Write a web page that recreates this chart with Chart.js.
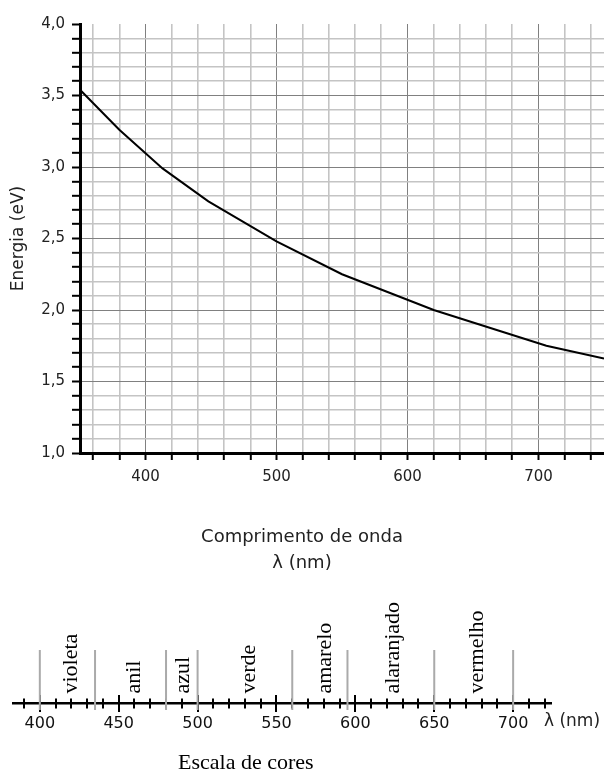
<!DOCTYPE html>
<html><head><meta charset="utf-8">
<script src="https://cdn.jsdelivr.net/npm/chart.js@4.4.0/dist/chart.umd.min.js"></script>
<style>
html,body{margin:0;padding:0;background:#fff;width:604px;height:774px;overflow:hidden}
#c1{position:absolute;left:0;top:0}
#c2{position:absolute;left:0;top:580px}
</style></head><body>
<canvas id="c1" width="604" height="576"></canvas>
<canvas id="c2" width="604" height="194"></canvas>
<script>
// ---- main chart data ----
const wavelengths = [350, 380, 413, 448, 500, 550, 620, 706, 750];
const energies    = [3.54, 3.26, 2.99, 2.76, 2.48, 2.25, 2.00, 1.75, 1.66];
const xGridValues = [360,380,400,420,440,460,480,500,520,540,560,580,600,620,640,660,680,700,720,740];
const xTickValues = [400, 500, 600, 700];
const xTickLabels = ['400', '500', '600', '700'];
const yGridValues = [1.0,1.1,1.2,1.3,1.4,1.5,1.6,1.7,1.8,1.9,2.0,2.1,2.2,2.3,2.4,2.5,2.6,2.7,2.8,2.9,3.0,3.1,3.2,3.3,3.4,3.5,3.6,3.7,3.8,3.9,4.0];
const yTickValues = [1.0, 1.5, 2.0, 2.5, 3.0, 3.5, 4.0];
const yTickLabels = ['1,0', '1,5', '2,0', '2,5', '3,0', '3,5', '4,0'];
const yTitle = 'Energia (eV)';
const xTitle = ['Comprimento de onda', 'λ (nm)'];

// ---- colour scale data ----
const colorBoundaries = [400, 435, 480, 500, 560, 595, 650, 700];
const colorNames   = ['violeta', 'anil', 'azul', 'verde', 'amarelo', 'alaranjado', 'vermelho'];
const colorCenters = [420, 460, 491, 533, 581, 624, 677];
const scaleTickValues = [390,400,410,420,430,440,450,460,470,480,490,500,510,520,530,540,550,560,570,580,590,600,610,620,630,640,650,660,670,680,690,700,710,720];
const scaleLabelValues = [400, 450, 500, 550, 600, 650, 700];
const scaleLabels = ['400', '450', '500', '550', '600', '650', '700'];
const scaleUnit = 'λ (nm)';
const scaleTitle = 'Escala de cores';

Chart.defaults.font.family = '"DejaVu Sans", sans-serif';
Chart.defaults.animation = false;

const near = (a, b) => Math.abs(a - b) < 1e-6;

new Chart(document.getElementById('c1'), {
  type: 'line',
  data: {
    datasets: [{
      data: wavelengths.map((x, i) => ({x: x, y: energies[i]})),
      borderColor: '#000', borderWidth: 2, pointRadius: 0, tension: 0, fill: false
    }]
  },
  options: {
    responsive: false, devicePixelRatio: 1,
    layout: {padding: {top: 24, left: 0, right: 0, bottom: 0}},
    plugins: {
      legend: {display: false}, tooltip: {enabled: false},
      title: {display: true, position: 'bottom', text: xTitle, color: '#222',
        font: {size: 18, weight: 'normal', lineHeight: 26 / 18}, padding: 0}
    },
    scales: {
      x: {
        type: 'linear', min: 350, max: 750,
        afterBuildTicks: s => { s.ticks = xGridValues.map(v => ({value: v})); },
        afterFit: s => { s.height = 71; },
        ticks: {
          autoSkip: false, maxRotation: 0, padding: 8, color: '#222', font: {size: 15},
          callback: v => { const i = xTickValues.indexOf(v); return i >= 0 ? xTickLabels[i] : ''; }
        },
        grid: {
          color: c => (c.tick && xTickValues.includes(c.tick.value)) ? '#808080' : '#c4c4c4',
          lineWidth: c => (c.tick && xTickValues.includes(c.tick.value)) ? 1 : 1.6,
          tickColor: '#000', tickWidth: 2, tickLength: 7
        },
        border: {color: '#000', width: 3}
      },
      y: {
        type: 'linear', min: 1, max: 4,
        afterBuildTicks: s => { s.ticks = yGridValues.map(v => ({value: v})); },
        afterFit: s => { s.width = 80; },
        ticks: {
          autoSkip: false, padding: 7, color: '#222', font: {size: 15},
          callback: v => { const i = yTickValues.findIndex(t => near(t, v)); return i >= 0 ? yTickLabels[i] : ''; }
        },
        grid: {
          color: c => {
            if (!c.tick) return '#c4c4c4';
            if (near(c.tick.value, 4)) return 'rgba(0,0,0,0)';
            return yTickValues.some(t => near(t, c.tick.value)) ? '#808080' : '#c4c4c4';
          },
          lineWidth: c => (c.tick && yTickValues.some(t => near(t, c.tick.value))) ? 1 : 1.6,
          tickColor: '#000', tickWidth: 2, tickLength: 8
        },
        border: {color: '#000', width: 3},
        title: {display: true, text: yTitle, color: '#222', font: {size: 17}, padding: {top: 8, bottom: 0}}
      }
    }
  }
});

// ---- colour scale ----
const scalePlugin = {
  id: 'scaleDeco',
  beforeDatasetsDraw(chart) {
    const ctx = chart.ctx, xs = chart.scales.x, ys = chart.scales.y;
    const y0 = ys.getPixelForValue(0);
    ctx.save();
    ctx.strokeStyle = '#000';
    ctx.lineWidth = 2;
    scaleTickValues.forEach(v => {
      const px = Math.round(xs.getPixelForValue(v));
      const major = v % 50 === 0;
      const h = major ? 8.5 : 5;
      ctx.beginPath();
      ctx.moveTo(px, y0 - h);
      ctx.lineTo(px, y0 + h);
      ctx.stroke();
    });
    ctx.restore();
  },
  afterDraw(chart) {
    const ctx = chart.ctx, xs = chart.scales.x, ys = chart.scales.y;
    const y0 = ys.getPixelForValue(0);
    ctx.save();
    ctx.fillStyle = '#000';
    ctx.font = '22px "Liberation Serif", serif';
    ctx.textAlign = 'left';
    ctx.textBaseline = 'middle';
    colorNames.forEach((name, i) => {
      ctx.save();
      ctx.translate(xs.getPixelForValue(colorCenters[i]), y0 - 10);
      ctx.rotate(-Math.PI / 2);
      ctx.fillText(name, 0, 0);
      ctx.restore();
    });
    ctx.font = '17px "DejaVu Sans", sans-serif';
    ctx.fillStyle = '#222';
    ctx.fillText(scaleUnit, xs.right - 7, y0 + 18.5);
    ctx.font = '22px "Liberation Serif", serif';
    ctx.fillStyle = '#000';
    ctx.textBaseline = 'alphabetic';
    ctx.fillText(scaleTitle, 178, chart.height - 5);
    ctx.restore();
  }
};

new Chart(document.getElementById('c2'), {
  type: 'line',
  data: {
    datasets: colorBoundaries.map(b => ({
      data: [{x: b, y: 1}, {x: b, y: -0.12}],
      borderColor: '#aaaaaa', borderWidth: 2, pointRadius: 0, tension: 0, fill: false
    }))
  },
  options: {
    responsive: false, devicePixelRatio: 1,
    layout: {padding: {top: 70, left: 13, right: 53, bottom: 64}},
    plugins: {legend: {display: false}, tooltip: {enabled: false}},
    scales: {
      x: {
        type: 'linear', min: 383, max: 724, position: {y: 0},
        afterBuildTicks: s => { s.ticks = scaleLabelValues.map(v => ({value: v})); },
        ticks: {
          autoSkip: false, maxRotation: 0, padding: 11, color: '#111', font: {size: 16},
          callback: v => { const i = scaleLabelValues.indexOf(v); return i >= 0 ? scaleLabels[i] : ''; }
        },
        grid: {display: false, drawTicks: false},
        border: {display: true, color: '#000', width: 2.5}
      },
      y: {type: 'linear', min: -0.12, max: 1, display: false}
    }
  },
  plugins: [scalePlugin]
});
</script>
</body></html>
